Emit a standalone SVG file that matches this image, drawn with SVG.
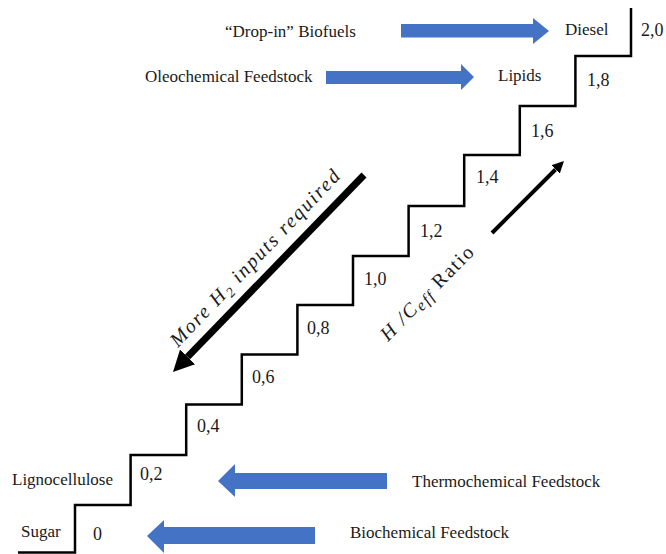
<svg xmlns="http://www.w3.org/2000/svg" width="666" height="554" viewBox="0 0 666 554">
<style>
.t{font-family:"Liberation Serif","Times New Roman",serif;font-size:17px;fill:#1a1a1a}
.n{font-family:"Liberation Serif","Times New Roman",serif;font-size:18px;fill:#1a1a1a}
.blue{fill:#4472C4}
.stair{fill:none;stroke:#000;stroke-width:2.5}
.bk{stroke:#000;fill:none;marker-end:url(#head)}
.it{font-family:"Liberation Serif","Times New Roman",serif;font-style:italic;fill:#1a1a1a}
</style>
<defs>
<marker id="head" viewBox="0 0 10 10" refX="0" refY="5" markerUnits="strokeWidth" markerWidth="3" markerHeight="3.4" orient="auto">
<path d="M0,0 L10,5 L0,10 z" fill="#000"/>
</marker>
</defs>
<rect width="666" height="554" fill="#fff"/>
<g id="staircase">
<path class="stair" d="M18,552.5 H75 V505 H130.6 V455 H186.2 V404.5 H241.8 V354.5 H297.4 V305 H353 V256 H408.6 V206 H464.2 V155 H519.8 V106 H575.4 V56 H631 V8"/>
</g>
<g id="step-labels">
<text class="n" x="93" y="540">0</text>
<text class="n" x="140" y="480">0,2</text>
<text class="n" x="197" y="432">0,4</text>
<text class="n" x="252" y="383">0,6</text>
<text class="n" x="307" y="334">0,8</text>
<text class="n" x="364" y="285">1,0</text>
<text class="n" x="420" y="237">1,2</text>
<text class="n" x="476" y="183">1,4</text>
<text class="n" x="531" y="137">1,6</text>
<text class="n" x="587" y="86">1,8</text>
<text class="n" x="641" y="36">2,0</text>
</g>
<g id="node-dropin"><text class="t" x="225" y="37">“Drop-in” Biofuels</text></g>
<g id="node-oleo"><text class="t" x="145" y="82">Oleochemical Feedstock</text></g>
<g id="node-diesel"><text class="t" x="565" y="35">Diesel</text></g>
<g id="node-lipids"><text class="t" x="498" y="81">Lipids</text></g>
<g id="node-ligno"><text class="t" x="12" y="485">Lignocellulose</text></g>
<g id="node-sugar"><text class="t" x="21" y="537">Sugar</text></g>
<g id="node-thermo"><text class="t" x="412" y="487">Thermochemical Feedstock</text></g>
<g id="node-bio"><text class="t" x="350" y="538">Biochemical Feedstock</text></g>
<g id="connectors">
<polygon class="blue" points="401,24 533,24 533,18 549,31 533,44 533,37.5 401,37.5"/>
<polygon class="blue" points="326,71 461,71 461,64 474,77 461,90 461,84 326,84"/>
<polygon class="blue" points="387,473 235,473 235,464 218,481 235,497 235,489 387,489"/>
<polygon class="blue" points="315,527 164,527 164,520 147,536 164,553 164,544 315,544"/>
<line class="bk" x1="364" y1="175" x2="187.6" y2="356.9" stroke-width="7"/>
<line class="bk" x1="492" y1="233" x2="555.5" y2="169.5" stroke-width="4"/>
</g>
<g id="label-h2">
<text class="it" font-size="20" transform="translate(178,348) rotate(-46.3)" textLength="236" lengthAdjust="spacing">More H<tspan font-size="14" dy="4">2</tspan><tspan dy="-4"> inputs required</tspan></text>
</g>
<g id="label-ratio">
<text transform="translate(388,342) rotate(-45.5)" font-size="20" font-family="Liberation Serif, Times New Roman, serif" fill="#1a1a1a" textLength="124" lengthAdjust="spacing"><tspan font-style="italic">H /C</tspan><tspan font-style="italic" font-size="16" dy="3">eff</tspan><tspan dy="-3"> Ratio</tspan></text>
</g>
</svg>
